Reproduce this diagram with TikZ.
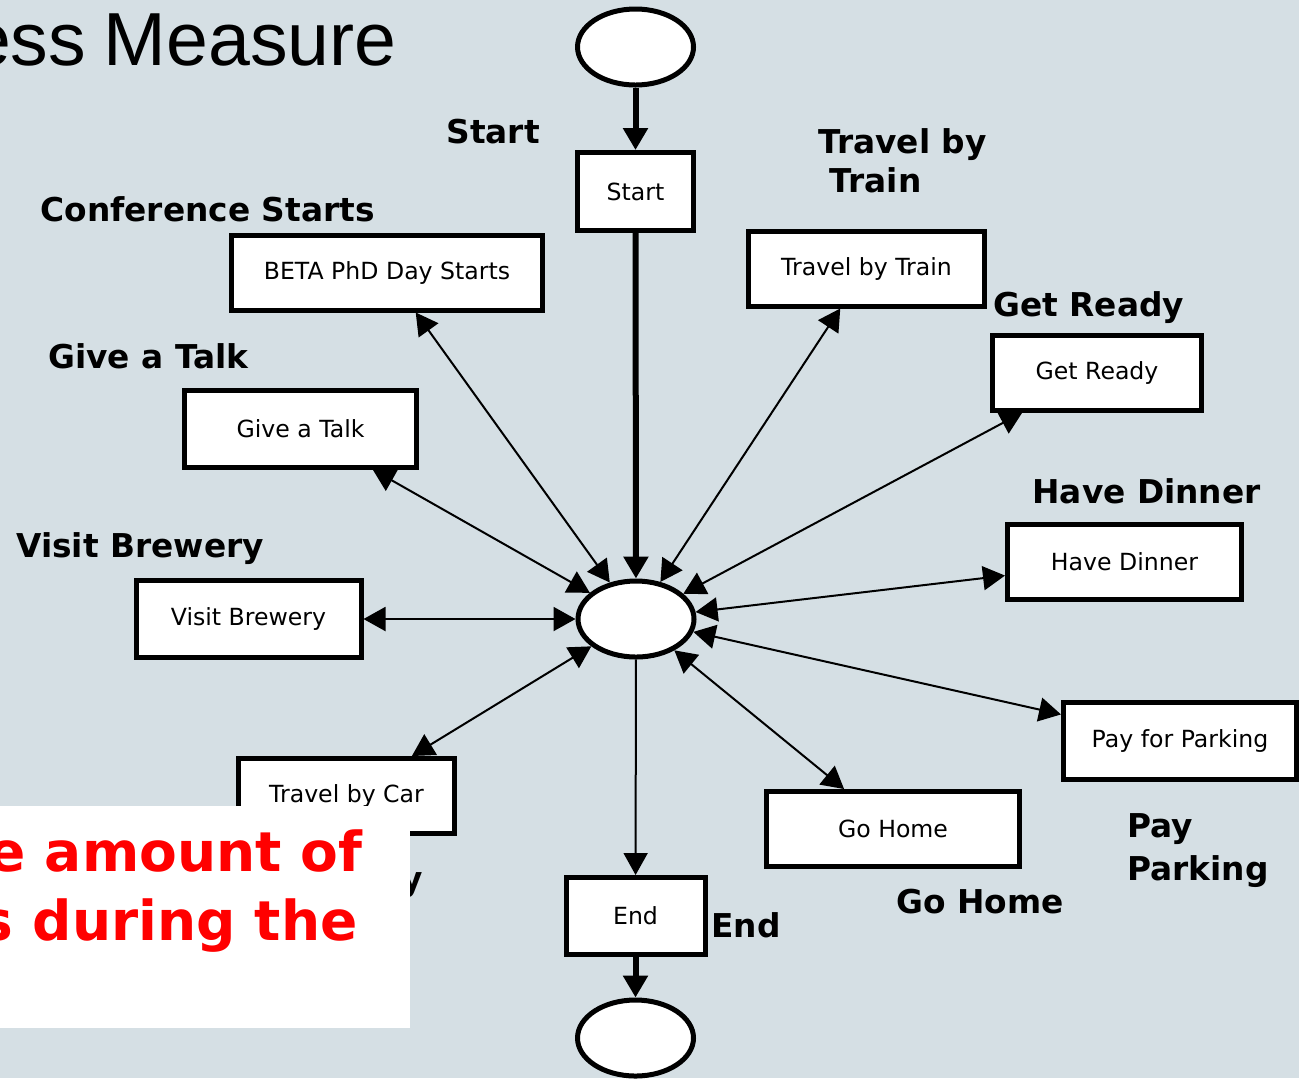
\documentclass[tikz,border=0pt]{standalone}
\usepackage{fontspec}
\setmainfont{DejaVu Sans}
\newfontfamily\titlefont{Liberation Sans}
\usetikzlibrary{arrows.meta,shapes,calc,positioning}
\definecolor{slide}{RGB}{213,223,228}
\definecolor{alert}{RGB}{255,0,0}
\tikzset{
	every node/.style={
		font=\fontsize{11.8}{14}\selectfont
	},
	place/.style={
		shape=ellipse,
		draw,
		fill=white,
		line width=2.5pt,
		minimum width=58pt,
		minimum height=38pt,
		inner sep=0pt
	},
	transition/.style={
		shape=rectangle,
		draw,
		fill=white,
		line width=2.5pt,
		minimum height=37.5pt,
		inner sep=0pt
	},
	tasklabel/.style={
		font=\fontsize{16.4}{19.5}\selectfont\bfseries,
		anchor=base west,
		inner sep=0pt,
		align=left
	},
	flow/.style={
		-{Triangle[length=11pt,width=12pt]},
		line width=3pt
	},
	arc/.style={
		{Triangle[length=11pt,width=12pt]}-{Triangle[length=11pt,width=12pt]},
		line width=1pt
	},
	arcout/.style={
		-{Triangle[length=11pt,width=12pt]},
		line width=1pt
	}
}

\begin{document}
\begin{tikzpicture}[x=0.5pt,y=-0.5pt]
	\fill[slide] (0,0) rectangle (1299,1078);
	\useasboundingbox (0,0) rectangle (1299,1078);

	\node[anchor=base east, inner sep=0pt, font=\titlefont\fontsize{37.6}{46}\selectfont] (title) at (397,65) {ess\hspace{-1.5pt} Measure};

	% places
	\node[place] (in)  at (635.5,47)   {};
	\node[place] (hub) at (636,619)    {};
	\node[place] (out) at (635.5,1038) {};

	% transitions
	\node[transition, minimum width=58pt, minimum height=39pt] (start) at (635.5,191.5) {Start};
	\node[transition, minimum width=155.5pt] (beta)    at (387,272.5)   {BETA PhD Day Starts};
	\node[transition, minimum width=118pt]   (train)   at (866.5,268.5) {Travel by Train};
	\node[transition, minimum width=104.5pt] (ready)   at (1097,372.5)  {Get Ready};
	\node[transition, minimum width=116pt, minimum height=38.5pt] (talk) at (300.5,428.5) {Give a Talk};
	\node[transition, minimum width=112.5pt, minimum height=38.5pt] (brewery) at (248.5,619) {Visit Brewery};
	\node[transition, minimum width=117pt]   (dinner)  at (1124.5,561.5) {Have Dinner};
	\node[transition, minimum width=116.5pt, minimum height=38.5pt] (parking) at (1180,741) {Pay for Parking};
	\node[transition, minimum width=126.5pt] (gohome)  at (893,829)     {Go Home};
	\node[transition, minimum width=108pt]   (car)     at (346.5,796)   {Travel by Car};
	\node[transition, minimum width=69.5pt, minimum height=38.5pt] (end) at (635.5,916) {End};

	% labels (base of the last line for two-line ones)
	\node[tasklabel] (l-start)   at (446,143)  {Start};
	\node[tasklabel] (l-beta)    at (40,221)   {Conference Starts};
	\node[tasklabel] (l-train)   at (818,192)  {Travel by\\\hspace*{0.35em}Train};
	\node[tasklabel] (l-ready)   at (993,316)  {Get Ready};
	\node[tasklabel] (l-talk)    at (48,368)   {Give a Talk};
	\node[tasklabel] (l-brewery) at (16,557)   {Visit Brewery};
	\node[tasklabel] (l-dinner)  at (1032,503) {Have Dinner};
	\node[tasklabel] (l-parking) at (1127,880) {Pay\\[2pt]Parking};
	\node[tasklabel] (l-gohome)  at (896,913)  {Go Home};
	\node[tasklabel] (l-end)     at (711,937)  {End};
	\node[tasklabel, anchor=base east] (l-car) at (423,890) {y};

	% arcs
	\path (in)    edge[flow]   (start)
	      (start) edge[flow]   (hub)
	      (end)   edge[flow]   (out)
	      (hub)   edge[arcout] (end);
	\path (hub) edge[arc] (beta)
	      (hub) edge[arc] (train)
	      (hub) edge[arc] (ready)
	      (hub) edge[arc] (talk)
	      (hub) edge[arc] (brewery)
	      (hub) edge[arc] (dinner)
	      (hub) edge[arc] (parking)
	      (hub) edge[arc] (gohome)
	      (hub) edge[arc] (car);

	% note box on top
	\fill[white] (0,806) rectangle (410,1028);
	\node[anchor=base east, inner sep=0pt, text=alert, font=\fontsize{27.5}{33}\selectfont\bfseries] (note) at (363,871) {e amount of};
	\node[anchor=base east, inner sep=0pt, text=alert, font=\fontsize{27.5}{33}\selectfont\bfseries] (note2) at (358,940) {s during the};
\end{tikzpicture}
\end{document}
